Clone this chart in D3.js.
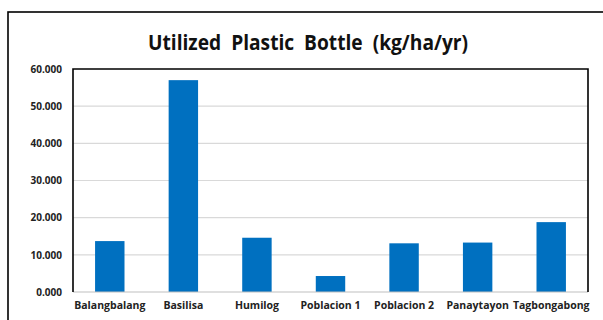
<!DOCTYPE html>
<html>
<head>
<meta charset="utf-8">
<script src="https://cdn.jsdelivr.net/npm/d3@7"></script>
<style>
  body { margin: 0; background: #fff; }
  svg { display: block; font-family: "Open Sans", "Noto Sans", sans-serif; }
</style>
</head>
<body>
<svg id="chart" width="603" height="320"></svg>
<script>
const categories = ["Balangbalang", "Basilisa", "Humilog", "Poblacion 1", "Poblacion 2", "Panaytayon", "Tagbongabong"];
const values = [13.7, 57.0, 14.6, 4.3, 13.1, 13.3, 18.8];
const yTicks = [0, 10, 20, 30, 40, 50, 60];
const title = "Utilized  Plastic  Bottle  (kg/ha/yr)";

const svg = d3.select("#chart");
const m = { left: 73, right: 588, top: 69, bottom: 292 };

// outer chart frame (runs off the right and bottom edges)
svg.append("rect").attr("x", 8).attr("y", 12).attr("width", 620).attr("height", 330)
   .attr("fill", "#fff").attr("stroke", "#000").attr("stroke-width", 1.6);

const x = d3.scaleBand().domain(categories).range([m.left, m.right]).paddingInner(0.6).paddingOuter(0.3);
const y = d3.scaleLinear().domain([0, 60]).range([m.bottom, m.top]);

// gridlines
svg.append("g").selectAll("line").data(yTicks.slice(1, -1)).join("line")
   .attr("x1", m.left).attr("x2", m.right).attr("y1", d => y(d)).attr("y2", d => y(d))
   .attr("stroke", "#d9d9d9").attr("stroke-width", 1.2);

// bars
svg.append("g").selectAll("rect").data(values).join("rect")
   .attr("x", (d, i) => x(categories[i])).attr("width", x.bandwidth())
   .attr("y", d => y(d)).attr("height", d => y(0) - y(d))
   .attr("fill", "#0070c0");

// plot frame: black on three sides, grey base line
svg.append("line").attr("x1", m.left).attr("x2", m.right).attr("y1", m.bottom).attr("y2", m.bottom)
   .attr("stroke", "#bfbfbf").attr("stroke-width", 1.2);
svg.append("path")
   .attr("d", `M${m.left},${m.bottom}V${m.top}H${m.right}V${m.bottom}`)
   .attr("fill", "none").attr("stroke", "#000").attr("stroke-width", 1.6);

// y axis labels
const yAxis = svg.append("g").attr("transform", `translate(${m.left},0)`)
   .call(d3.axisLeft(y).tickValues(yTicks).tickFormat(d3.format(".3f")).tickSize(0).tickPadding(11));
yAxis.select(".domain").remove();
yAxis.selectAll("text").attr("font-size", 10).attr("font-weight", "bold").attr("fill", "#222")
   .attr("font-family", "'Open Sans', sans-serif");

// x axis labels
const xAxis = svg.append("g").attr("transform", `translate(0,${m.bottom})`)
   .call(d3.axisBottom(x).tickSize(0).tickPadding(10));
xAxis.select(".domain").remove();
xAxis.selectAll("text").attr("font-size", 10.5).attr("font-weight", "bold").attr("fill", "#222")
   .attr("font-family", "'Open Sans', sans-serif");

// title
svg.append("text").attr("x", 308).attr("y", 50).attr("text-anchor", "middle")
   .attr("font-size", 22).attr("font-weight", "bold").attr("fill", "#111")
   .attr("textLength", 320).attr("lengthAdjust", "spacingAndGlyphs")
   .style("white-space", "pre").text(title);
</script>
</body>
</html>
